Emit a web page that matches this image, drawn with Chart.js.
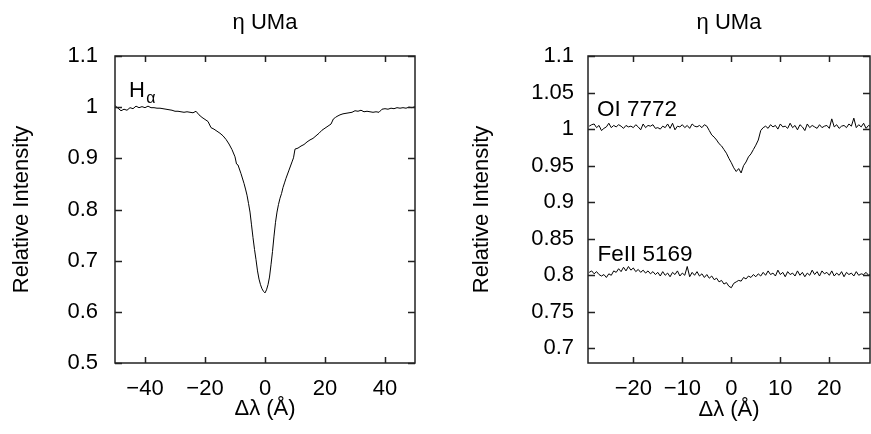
<!DOCTYPE html>
<html><head><meta charset="utf-8">
<script src="https://cdn.jsdelivr.net/npm/chart.js@4"></script>
<style>
html,body{margin:0;padding:0;background:#fff;width:871px;height:434px;overflow:hidden}
#a{position:absolute;left:0;top:0;width:440px;height:434px}
#b{position:absolute;left:440px;top:0;width:431px;height:434px}
</style></head>
<body>
<div id="a"><canvas id="c1"></canvas></div>
<div id="b"><canvas id="c2"></canvas></div>
<script>
const starName = 'η UMa';
const yTitle = 'Relative Intensity';
const xTitle = 'Δλ (Å)';

const hAlphaWave = [-50,-49,-48,-47,-46,-45,-44,-43,-42,-41,-40,-39,-38,-37,-36,-35,-34,-33,-32,-31,-30,-29,-28,-27,-26,-25,-24,-23,-22,-21,-20,-19,-18,-17,-16,-15,-14,-13,-12,-11,-10,-9.5,-9,-8,-7,-6.5,-6,-5.5,-5,-4.5,-4,-3.5,-3,-2.5,-2,-1.5,-1,-0.5,0,0.5,1,1.5,2,2.5,3,3.5,4,4.5,5,5.5,6,6.5,7,8,9,9.5,10,11,12,13,14,15,16,17,18,19,20,21,22,22.8,23.5,24,25,26,27,28,29,30,31,32,33,34,35,36,37,38,39,40,41,42,43,44,45,46,47,48,49,50];
const hAlphaFlux = [1.003,0.998,0.993,0.996,0.994,0.999,0.997,1.002,0.999,1.001,0.999,1.002,0.999,0.999,0.998,0.998,0.997,0.996,0.995,0.994,0.992,0.992,0.991,0.990,0.991,0.990,0.989,0.992,0.985,0.980,0.976,0.972,0.960,0.957,0.953,0.949,0.944,0.937,0.928,0.917,0.903,0.889,0.887,0.870,0.851,0.840,0.828,0.812,0.795,0.770,0.745,0.722,0.702,0.680,0.664,0.653,0.645,0.640,0.637,0.643,0.653,0.668,0.692,0.718,0.748,0.775,0.795,0.810,0.822,0.831,0.843,0.852,0.861,0.877,0.893,0.901,0.918,0.920,0.924,0.927,0.932,0.936,0.939,0.944,0.949,0.955,0.959,0.963,0.967,0.977,0.980,0.982,0.985,0.987,0.988,0.989,0.990,0.993,0.992,0.994,0.991,0.992,0.991,0.990,0.991,0.990,0.996,0.997,0.996,0.998,0.997,0.999,0.998,0.999,0.998,1.000,0.999,1.001];

const lineWave = [-29,-28.5,-28,-27.5,-27,-26.5,-26,-25.5,-25,-24.5,-24,-23.5,-23,-22.5,-22,-21.5,-21,-20.5,-20,-19.5,-19,-18.5,-18,-17.5,-17,-16.5,-16,-15.5,-15,-14.5,-14,-13.5,-13,-12.5,-12,-11.5,-11,-10.5,-10,-9.5,-9,-8.5,-8,-7.5,-7,-6.5,-6,-5.5,-5,-4.5,-4,-3.5,-3,-2.5,-2,-1.5,-1,-0.5,0,0.5,1,1.5,2,2.5,3,3.5,4,4.5,5,5.5,6,6.5,7,7.5,8,8.5,9,9.5,10,10.5,11,11.5,12,12.5,13,13.5,14,14.5,15,15.5,16,16.5,17,17.5,18,18.5,19,19.5,20,20.5,21,21.5,22,22.5,23,23.5,24,24.5,25,25.5,26,26.5,27,27.5,28,28.5];
const oiFlux = [1.004,1.006,1.007,1.002,1.005,0.998,1.001,1.003,1.008,1.002,1.005,1.003,1.006,1.004,1.001,1.005,1.003,1.004,1.002,1.006,1.003,0.999,1.007,1.002,1.005,1.004,1.006,1.001,1.002,1.000,1.004,1.002,1.007,1.001,1.008,0.999,1.004,1.003,1.006,1.002,1.005,1.001,1.007,1.004,1.003,1.005,1.002,1.006,1.004,0.998,0.992,0.989,0.985,0.980,0.977,0.972,0.967,0.960,0.954,0.947,0.942,0.946,0.940,0.950,0.955,0.962,0.966,0.972,0.978,0.985,0.998,1.002,1.004,1.001,1.006,1.003,1.005,1.000,1.007,1.003,1.004,1.001,1.008,1.002,1.005,0.999,1.006,1.003,0.998,1.007,1.002,1.005,1.003,1.001,1.006,1.002,1.004,1.005,1.001,1.014,1.003,1.006,1.001,1.004,1.005,1.002,1.007,1.004,1.015,1.002,1.006,1.003,1.008,1.001,1.005,1.003];
const feiiFlux = [0.804,0.806,0.802,0.805,0.801,0.799,0.801,0.797,0.802,0.800,0.806,0.804,0.809,0.805,0.811,0.806,0.812,0.807,0.810,0.805,0.808,0.804,0.807,0.803,0.806,0.802,0.805,0.801,0.804,0.799,0.805,0.800,0.803,0.798,0.804,0.801,0.806,0.799,0.803,0.800,0.812,0.798,0.804,0.800,0.805,0.799,0.802,0.797,0.801,0.796,0.799,0.794,0.796,0.791,0.793,0.788,0.790,0.785,0.783,0.789,0.791,0.793,0.792,0.797,0.795,0.799,0.797,0.801,0.798,0.802,0.799,0.804,0.800,0.806,0.801,0.803,0.799,0.807,0.801,0.804,0.798,0.805,0.801,0.803,0.799,0.806,0.800,0.804,0.798,0.803,0.800,0.807,0.801,0.805,0.799,0.806,0.802,0.804,0.800,0.806,0.799,0.803,0.800,0.805,0.798,0.804,0.801,0.803,0.799,0.805,0.800,0.802,0.801,0.804,0.800,0.802];

const leftXTicks = [-40,-20,0,20,40];
const leftYTicks = [0.5,0.6,0.7,0.8,0.9,1,1.1];
const rightXTicks = [-20,-10,0,10,20];
const rightYTicks = [0.7,0.75,0.8,0.85,0.9,0.95,1,1.05,1.1];

const FONT = 'Liberation Sans, Arial, Helvetica, sans-serif';
const pts = (xs, ys) => xs.map((x, i) => ({x, y: ys[i]}));
const fmt = v => (v < 0 ? '\u2212' + Math.abs(v) : String(v));

const framePlugin = {
  id: 'frame',
  afterDatasetsDraw(chart, args, o) {
    const {ctx, chartArea: a, scales: {x, y}} = chart;
    ctx.save();
    ctx.strokeStyle = '#222';
    ctx.lineWidth = 1.5;
    ctx.beginPath();
    x.ticks.forEach(t => {
      const p = Math.round(x.getPixelForValue(t.value)) + 0.5;
      ctx.moveTo(p, a.bottom); ctx.lineTo(p, a.bottom - o.tickX);
      ctx.moveTo(p, a.top); ctx.lineTo(p, a.top + o.tickX);
    });
    y.ticks.forEach(t => {
      const p = Math.round(y.getPixelForValue(t.value)) + 0.5;
      ctx.moveTo(a.left, p); ctx.lineTo(a.left + o.tickY, p);
      ctx.moveTo(a.right, p); ctx.lineTo(a.right - o.tickY, p);
    });
    ctx.stroke();
    ctx.strokeRect(a.left, a.top, a.right - a.left, a.bottom - a.top);
    ctx.fillStyle = '#000';
    ctx.textBaseline = 'alphabetic';
    ctx.textAlign = 'left';
    (o.labels || []).forEach(l => {
      ctx.font = l.size + 'px ' + FONT;
      ctx.fillText(l.text, x.getPixelForValue(l.x), y.getPixelForValue(l.y));
    });
    ctx.restore();
  }
};

function makeChart(id, cfg) {
  const font = {family: FONT, size: 22};
  return new Chart(document.getElementById(id), {
    type: 'line',
    data: {datasets: cfg.series.map(s => ({
      data: pts(cfg.wave, s), borderColor: '#000', borderWidth: 1,
      pointRadius: 0, tension: 0, fill: false
    }))},
    plugins: [framePlugin],
    options: {
      responsive: true, maintainAspectRatio: false, animation: false,
      devicePixelRatio: 1, parsing: false,
      layout: {padding: {left: 0, top: 0, bottom: 0, right: cfg.padRight}},
      plugins: {legend: {display: false}, tooltip: {enabled: false},
        frame: {tickX: 6, tickY: 7, labels: cfg.labels}},
      scales: {
        x: {type: 'linear', position: 'bottom', min: cfg.xmin, max: cfg.xmax,
          afterBuildTicks: s => { s.ticks = cfg.xTicks.map(v => ({value: v})); },
          afterFit: s => { s.height = 71; },
          grid: {display: false, drawTicks: false}, border: {display: false},
          ticks: {color: '#000', font, padding: 13, maxRotation: 0, autoSkip: false, callback: fmt},
          title: {display: true, text: xTitle, color: '#000', font, padding: {top: 0, bottom: cfg.xTitlePad}}},
        top: {type: 'linear', position: 'top', min: cfg.xmin, max: cfg.xmax,
          afterFit: s => { s.height = 56; },
          grid: {display: false, drawTicks: false}, border: {display: false},
          ticks: {display: false},
          title: {display: true, text: starName, color: '#000', font, padding: {top: 10, bottom: 0}}},
        y: {type: 'linear', position: 'left', min: cfg.ymin, max: cfg.ymax,
          afterBuildTicks: s => { s.ticks = cfg.yTicks.map(v => ({value: v})); },
          afterFit: s => { s.width = cfg.yWidth; },
          grid: {display: false, drawTicks: false}, border: {display: false},
          ticks: {color: '#000', font, padding: cfg.yTickPad, autoSkip: false, callback: fmt},
          title: {display: true, text: yTitle, color: '#000', font, padding: {top: cfg.yTitlePad, bottom: 0}}}
      }
    }
  });
}

makeChart('c1', {
  wave: hAlphaWave, series: [hAlphaFlux],
  xmin: -50, xmax: 50, ymin: 0.5, ymax: 1.1,
  xTicks: leftXTicks, yTicks: leftYTicks,
  padRight: 25, yWidth: 115, yTickPad: 17, yTitlePad: 9, xTitlePad: 12,
  labels: [{text: 'H', x: -45.3, y: 1.0205, size: 22}, {text: 'α', x: -39.6, y: 1.0072, size: 16}]
});
makeChart('c2', {
  wave: lineWave, series: [oiFlux, feiiFlux],
  xmin: -29.25, xmax: 28.3, ymin: 0.68, ymax: 1.1,
  xTicks: rightXTicks, yTicks: rightYTicks,
  padRight: 1, yWidth: 148, yTickPad: 14, yTitlePad: 29, xTitlePad: 11,
  labels: [{text: 'OI 7772', x: -27.4, y: 1.018, size: 22.5}, {text: 'FeII 5169', x: -27.3, y: 0.819, size: 22.5}]
});
</script>
</body></html>
